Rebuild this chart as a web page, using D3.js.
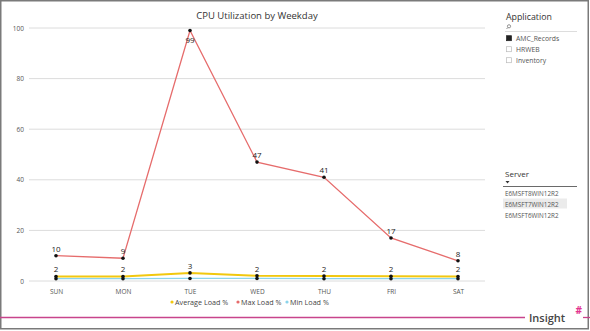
<!DOCTYPE html>
<html><head><meta charset="utf-8">
<script src="https://cdn.jsdelivr.net/npm/d3@7"></script>
<style>
body{margin:0;background:#fff;}
svg{display:block;font-family:"Open Sans","Noto Sans",sans-serif;}
</style></head>
<body><svg id="c" width="590" height="331"></svg>
<script>
const days = ["SUN","MON","TUE","WED","THU","FRI","SAT"];
const maxLoad = [10, 9, 99, 47, 41, 17, 8];
const avgLoad = [1.8, 1.8, 3.2, 2.1, 2.0, 1.9, 1.8];
const minLoad = [0.9, 0.9, 1.0, 1.0, 0.9, 0.9, 0.9];
const yTicks = [0, 20, 40, 60, 80, 100];
const seriesNames = ["Average Load %", "Max Load %", "Min Load %"];
const seriesColors = ["#F2C80F", "#E66C6C", "#8AD4EB"];
const appItems = ["AMC_Records", "HRWEB", "Inventory"];
const serverItems = ["E6MSFT8WIN12R2", "E6MSFT7WIN12R2", "E6MSFT6WIN12R2"];

const svg = d3.select("#c");
// frame
svg.append("rect").attr("x",0.75).attr("y",0.75).attr("width",587.5).attr("height",328).attr("fill","none").attr("stroke","#7a7a7a").attr("stroke-width",1.5);

const x = d3.scalePoint().domain(days).range([56, 458]);
const y = d3.scaleLinear().domain([0, 100]).range([281, 28]);

// title
svg.append("text").attr("x",257).attr("y",19).attr("text-anchor","middle").attr("font-size",9.5).attr("fill","#333").text("CPU Utilization by Weekday");

// grid
const yAxis = d3.axisLeft(y).tickValues(yTicks).tickSize(0).tickPadding(0);
const gy = svg.append("g").attr("transform","translate(24,0)").call(yAxis);
gy.select(".domain").remove();
gy.selectAll("text").attr("font-size",6.5).attr("fill","#555").attr("font-family","'Open Sans',sans-serif");
svg.append("g").selectAll("line").data(yTicks).join("line")
  .attr("x1",29).attr("x2",485).attr("y1",d=>y(d)).attr("y2",d=>y(d))
  .attr("stroke","#dcdcdc").attr("stroke-width",1);

// x axis
const xAxis = d3.axisBottom(x).tickSize(0).tickPadding(0);
const gx = svg.append("g").attr("transform","translate(0,294)").call(xAxis);
gx.select(".domain").remove();
gx.selectAll("text").attr("font-size",6.5).attr("fill","#555").attr("dy",0).attr("font-family","'Open Sans',sans-serif");

const line = d3.line().x((d,i)=>x(days[i])).y(d=>y(d));
const series = [avgLoad, maxLoad, minLoad];
const widths = [2, 1.3, 1.3];
[2,0,1].forEach(k=>{
  svg.append("path").datum(series[k]).attr("d",line).attr("fill","none")
    .attr("stroke",seriesColors[k]).attr("stroke-width",widths[k]);
});
// dots
[2,0,1].forEach(k=>{
  svg.append("g").selectAll("circle").data(series[k]).join("circle")
    .attr("cx",(d,i)=>x(days[i])).attr("cy",d=>y(d)).attr("r",1.8).attr("fill","#111");
});
// labels: max
svg.append("g").selectAll("text").data(maxLoad).join("text")
  .attr("x",(d,i)=>x(days[i])).attr("y",d=> d>90 ? y(d)+12 : y(d)-4)
  .attr("text-anchor","middle").attr("font-size",8).attr("fill","#222").text(d=>d);
svg.append("g").selectAll("text").data(avgLoad).join("text")
  .attr("x",(d,i)=>x(days[i])).attr("y",d=>y(d)-4)
  .attr("text-anchor","middle").attr("font-size",8).attr("fill","#222").text(d=>Math.round(d));

// legend
const legX = [172, 238, 287];
const lg = svg.append("g");
seriesNames.forEach((n,i)=>{
  lg.append("circle").attr("cx",legX[i]).attr("cy",302).attr("r",1.6).attr("fill",seriesColors[i]);
  lg.append("text").attr("x",legX[i]+3).attr("y",304.5).attr("font-size",7.2).attr("fill","#444").text(n);
});

// Application slicer
svg.append("text").attr("x",506).attr("y",20).attr("font-size",8.8).attr("fill","#333").text("Application");
const mg = svg.append("g").attr("stroke","#666").attr("fill","none").attr("stroke-width",0.7);
mg.append("circle").attr("cx",509).attr("cy",26.3).attr("r",1.6);
mg.append("line").attr("x1",507.8).attr("y1",27.6).attr("x2",506.5).attr("y2",29);
svg.append("line").attr("x1",505).attr("x2",577).attr("y1",31.5).attr("y2",31.5).attr("stroke","#ddd").attr("stroke-width",1);
appItems.forEach((t,i)=>{
  const yy = 38.5 + i*11;
  svg.append("rect").attr("x",506.5).attr("y",yy-2.8).attr("width",5).attr("height",5)
    .attr("fill", i===0?"#222":"#fff").attr("stroke", i===0?"#222":"#bbb").attr("stroke-width",0.7);
  svg.append("text").attr("x",516).attr("y",yy+2.3).attr("font-size",6.8).attr("fill","#555").text(t);
});

// Server slicer
svg.append("text").attr("x",505).attr("y",177).attr("font-size",8).attr("fill","#333").text("Server");
svg.append("path").attr("d","M505.5,181 L509.5,181 L507.5,183.5 Z").attr("fill","#333");
svg.append("line").attr("x1",503).attr("x2",577).attr("y1",186.5).attr("y2",186.5).attr("stroke","#444").attr("stroke-width",0.8);
svg.append("rect").attr("x",503).attr("y",198.5).attr("width",64).attr("height",10).attr("fill","#ebebeb");
serverItems.forEach((t,i)=>{
  svg.append("text").attr("x",505).attr("y",195.5+i*11).attr("font-size",6.3).attr("fill","#555").text(t);
});

// footer
svg.append("line").attr("x1",0).attr("x2",525).attr("y1",317.5).attr("y2",317.5).attr("stroke","#c8448c").attr("stroke-width",1.3);
svg.append("line").attr("x1",583).attr("x2",590).attr("y1",317.5).attr("y2",317.5).attr("stroke","#c8448c").attr("stroke-width",1.3);
svg.append("text").attr("x",529).attr("y",321.5).attr("font-size",11).attr("font-weight",600).attr("fill","#444").text("Insight");
svg.append("text").attr("x",575.5).attr("y",314).attr("font-size",10).attr("font-weight",700).attr("fill","#e2348f").text("#");
</script>
</body></html>
